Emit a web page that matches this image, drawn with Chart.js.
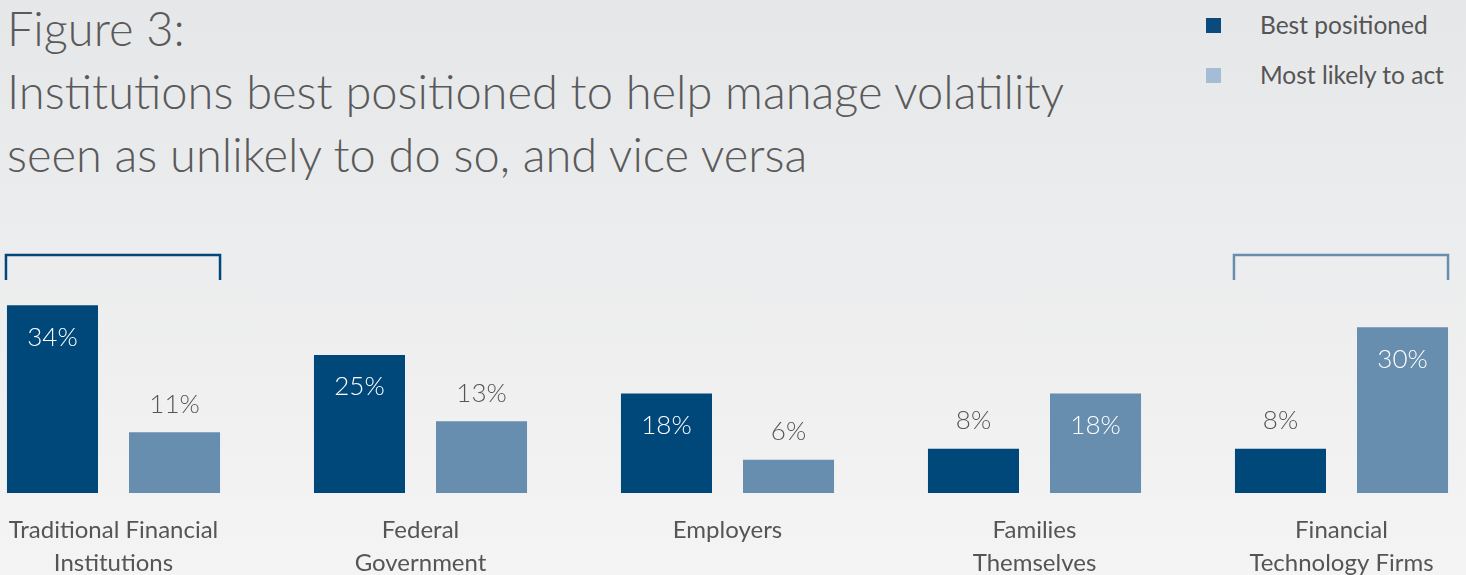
<!DOCTYPE html>
<html>
<head>
<meta charset="utf-8">
<script src="https://cdn.jsdelivr.net/npm/chart.js@4.4.0/dist/chart.umd.min.js"></script>
<style>
    html, body {
        margin: 0;
        padding: 0;
        width: 1466px;
        height: 575px;
        overflow: hidden;
        background: linear-gradient(#e6e7e9, #f4f4f4);
        font-family: "Lato", "Open Sans", sans-serif;
    }
    #title {
        position: absolute;
        left: 7px;
        top: -3px;
        color: #5a5a5a;
        font-weight: 300;
        font-size: 47px;
        line-height: 63px;
    }
    .legend-item {
        position: absolute;
        left: 1206px;
        color: #555;
        font-size: 24.5px;
        line-height: 30px;
    }
    .legend-item span {
        position: absolute;
        top: 8px;
        width: 15px;
        height: 15px;
    }
    .legend-item div {
        position: absolute;
        left: 54px;
        white-space: nowrap;
    }
    #wrap {
        position: absolute;
        left: -40px;
        top: 200px;
        width: 1535px;
        height: 375px;
    }
</style>
</head>
<body>
<div id="title">Figure 3:<br>Institutions best positioned to help manage volatility<br>seen as unlikely to do so, and vice versa</div>
<div class="legend-item" style="top:10px"><span style="background:#0b4a7d"></span><div>Best positioned</div></div>
<div class="legend-item" style="top:60px"><span style="background:#a4bcd5"></span><div>Most likely to act</div></div>
<div id="wrap"><canvas id="barras"></canvas></div>

<script>
const categories = [
    ["Traditional Financial", "Institutions"],
    ["Federal", "Government"],
    "Employers",
    ["Families", "Themselves"],
    ["Financial", "Technology Firms"]
];
const bestPositioned = [34, 25, 18, 8, 8];
const mostLikely = [11, 13, 6, 18, 30];
const seriesNames = ["Best positioned", "Most likely to act"];
const darkBlue = "#00487a";
const lightBlue = "#678daf";

// value labels: inside the bar (white) when tall enough, above it otherwise
const valueLabels = {
    id: "valueLabels",
    afterDatasetsDraw(chart) {
        const ctx = chart.ctx;
        ctx.save();
        ctx.font = "300 26px Lato, 'Open Sans', sans-serif";
        ctx.textAlign = "center";
        ctx.textBaseline = "middle";
        chart.data.datasets.forEach((ds, i) => {
            chart.getDatasetMeta(i).data.forEach((bar, j) => {
                const v = ds.data[j];
                if (v >= 15) {
                    ctx.fillStyle = "#ffffff";
                    ctx.fillText(v + "%", bar.x, bar.y + 32);
                } else {
                    ctx.fillStyle = "#555555";
                    ctx.fillText(v + "%", bar.x, bar.y - 28);
                }
            });
        });
        ctx.restore();
    }
};

// brackets over the first and last group
const brackets = {
    id: "brackets",
    afterDatasetsDraw(chart) {
        const ctx = chart.ctx;
        const dark = chart.getDatasetMeta(0).data;
        const light = chart.getDatasetMeta(1).data;
        const top = chart.chartArea.top - 17;
        const groups = [[0, darkBlue], [categories.length - 1, lightBlue]];
        ctx.save();
        ctx.lineWidth = 2.5;
        groups.forEach(([k, color]) => {
            const x1 = dark[k].x - dark[k].width / 2 - 1;
            const x2 = light[k].x + light[k].width / 2;
            ctx.strokeStyle = color;
            ctx.beginPath();
            ctx.moveTo(x1, top + 25);
            ctx.lineTo(x1, top);
            ctx.lineTo(x2, top);
            ctx.lineTo(x2, top + 25);
            ctx.stroke();
        });
        ctx.restore();
    }
};

const barras = new Chart(document.getElementById("barras"), {
    type: "bar",
    data: {
        labels: categories,
        datasets: [{
            label: seriesNames[0],
            data: bestPositioned,
            backgroundColor: darkBlue
        }, {
            label: seriesNames[1],
            data: mostLikely,
            backgroundColor: lightBlue
        }]
    },
    options: {
        responsive: true,
        maintainAspectRatio: false,
        animation: false,
        categoryPercentage: 0.795,
        barPercentage: 0.746,
        layout: {
            padding: { top: 72, left: 0, right: 0, bottom: 0 }
        },
        plugins: {
            legend: { display: false },
            tooltip: { enabled: false }
        },
        scales: {
            x: {
                grid: { display: false, drawTicks: false },
                border: { display: false },
                ticks: {
                    color: "#555555",
                    font: { family: "Lato, 'Open Sans', sans-serif", size: 24, lineHeight: 1.36 },
                    padding: 21,
                    maxRotation: 0,
                    autoSkip: false
                },
                afterFit: scale => {
                    scale.height = 82;
                }
            },
            y: {
                display: false,
                min: 0,
                max: 40
            }
        }
    },
    plugins: [valueLabels, brackets]
});
</script>
</body>
</html>
